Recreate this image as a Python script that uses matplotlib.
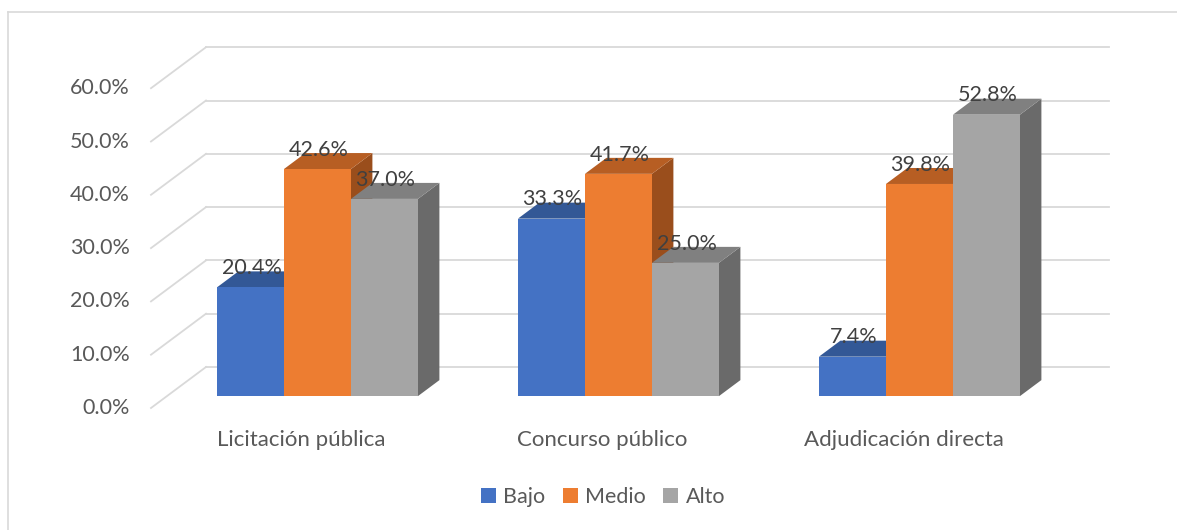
import matplotlib.pyplot as plt
from matplotlib.patches import Polygon, Patch
from matplotlib.lines import Line2D

categories = ['Licitación pública', 'Concurso público', 'Adjudicación directa']
series = ['Bajo', 'Medio', 'Alto']
bajo = [20.4, 33.3, 7.4]
medio = [42.6, 41.7, 39.8]
alto = [37.0, 25.0, 52.8]
yticks = [0, 10, 20, 30, 40, 50, 60]

front_colors = ['#4472C4', '#ED7D31', '#A5A5A5']
top_colors = ['#335896', '#B75E23', '#808080']
side_colors = ['#2A4A80', '#9A4E1C', '#6A6A6A']

plt.rcParams['font.family'] = ['Lato', 'DejaVu Sans']

W, H = 1177, 530
fig = plt.figure(figsize=(W / 100, H / 100), dpi=100)
ax = fig.add_axes([0, 0, 1, 1])
ax.set_axis_off()

# pixel mapping: x_px = 151 + 301*u, y_px = 408 - 5.33*v
PX_U, PX_V = 301.0, 5.33
ax.set_xlim(-151 / PX_U, (W - 151) / PX_U)
ax.set_ylim((408 - H) / PX_V, 408 / PX_V)

# wall depth (full) in data units
DX, DY = 55 / PX_U, 41 / PX_V
f0, f1 = 0.29, 0.68
n_cat = len(categories)
grid_c = '#D9D9D9'

# back wall + side wall gridlines
for v in yticks:
    ax.plot([DX, n_cat + DX], [v + DY, v + DY], color=grid_c, lw=1.3, zorder=1)
    ax.plot([0, DX], [v, v + DY], color=grid_c, lw=1.3, zorder=1)
    ax.text(-21 / PX_U, v, f'{v:.1f}%', ha='right', va='center',
            fontsize=15.5, color='#595959')

w = 67 / PX_U
vals = [bajo, medio, alto]
z = 2
for i in range(n_cat):
    for j in range(len(series)):
        val = vals[j][i]
        uL = i + 0.5 - 1.5 * w + j * w + f0 * DX
        base = f0 * DY
        top = base + val
        d = f1 - f0
        side = Polygon([(uL + w, base), (uL + w, top), (uL + w + d * DX, top + d * DY),
                        (uL + w + d * DX, base + d * DY)], closed=True,
                       facecolor=side_colors[j], edgecolor='none', zorder=z)
        topf = Polygon([(uL, top), (uL + w, top), (uL + w + d * DX, top + d * DY),
                        (uL + d * DX, top + d * DY)], closed=True,
                       facecolor=top_colors[j], edgecolor='none', zorder=z)
        ax.add_patch(side)
        ax.add_patch(topf)
        ax.bar(uL, val, width=w, bottom=base, align='edge', color=front_colors[j],
               edgecolor='none', zorder=z + 0.5)
        ax.text(uL + w / 2 + 1 / PX_U, top + 3.6, f'{val:.1f}%', ha='center', va='center',
                fontsize=15.5, color='#404040', zorder=20)
        z += 1

for i, cat in enumerate(categories):
    ax.text(i + 0.5, -6.0, cat, ha='center', va='center', fontsize=16, color='#595959')

handles = [Patch(facecolor=c, edgecolor='none') for c in front_colors]
leg = fig.legend(handles, series, loc='center', bbox_to_anchor=(603 / W, 1 - 497 / H),
                 ncol=3, frameon=False, fontsize=15.5, handlelength=0.7, handleheight=0.7,
                 handletextpad=0.35, columnspacing=0.8)
for t in leg.get_texts():
    t.set_color('#595959')

# chart border
fig.add_artist(Line2D([8 / W, 8 / W], [0, 1 - 12 / H], color=grid_c, lw=1.2))
fig.add_artist(Line2D([8 / W, 1], [1 - 12 / H, 1 - 12 / H], color=grid_c, lw=1.2))

fig.savefig('out.png', dpi=100)
